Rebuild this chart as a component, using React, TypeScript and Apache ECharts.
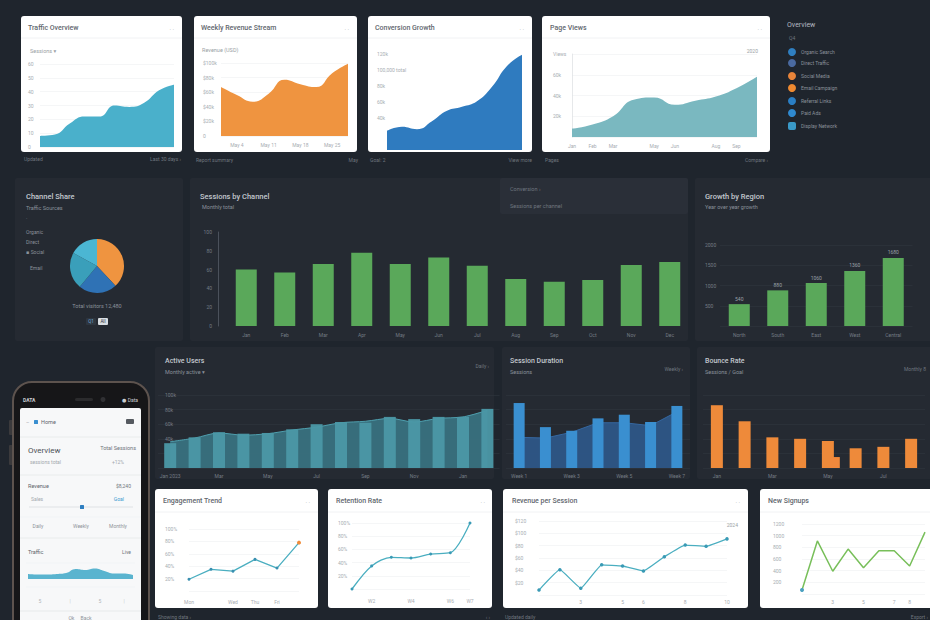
import React, { useEffect, useRef } from 'react';
import * as echarts from 'echarts';

const FONT = 'Roboto, "Noto Sans", "DejaVu Sans", sans-serif';

// ---------------- data ----------------
const trafficWeeks = ['W1', 'W2', 'W3', 'W4', 'W5', 'W6', 'W7', 'W8', 'W9', 'W10'];
const trafficSessions = [8, 9, 17, 22, 22, 30, 29, 32, 41, 45];

const revenueDays = ['May 1', 'May 4', 'May 8', 'May 11', 'May 15', 'May 18', 'May 22', 'May 25', 'May 29'];
const revenueValues = [67, 56, 47, 58, 77, 71, 67, 86, 99];

const growthMonths = ['Jan', 'Feb', 'Mar', 'Apr', 'May', 'Jun', 'Jul', 'Aug', 'Sep', 'Oct'];
const growthValues = [24, 29, 26, 36, 49, 54, 61, 79, 105, 119];

const pageMonths = ['Jan', 'Feb', 'Mar', 'Apr', 'May', 'Jun', 'Jul', 'Aug', 'Sep', 'Oct'];
const pageViews = [8, 12, 20, 36, 38, 31, 35, 39, 47, 58];

const legendNames = ['Organic Search', 'Direct Traffic', 'Social Media', 'Email Campaign', 'Referral Links', 'Paid Ads', 'Display Network'];
const legendColors = ['#2f7fc1', '#4a6aa0', '#e8843a', '#ef8a30', '#2a7fc5', '#2f8ad0', '#3a9ac8'];

const shareNames = ['Organic', 'Direct', 'Social', 'Email'];
const shareValues = [38, 23, 22, 17];
const shareColors = ['#ef9440', '#2f72b5', '#3a9fba', '#4bb6d3'];

const channelMonths = ['Jan', 'Feb', 'Mar', 'Apr', 'May', 'Jun', 'Jul', 'Aug', 'Sep', 'Oct', 'Nov', 'Dec'];
const channelSessions = [60, 57, 66, 78, 66, 73, 64, 50, 47, 49, 65, 68];

const regionNames = ['North', 'South', 'East', 'West', 'Central'];
const regionGrowth = [27, 44, 53, 68, 84];

const activeMonths = ['Jan 2023', 'Feb', 'Mar', 'Apr', 'May', 'Jun', 'Jul', 'Aug', 'Sep', 'Oct', 'Nov', 'Dec', 'Jan', 'Feb'];
const activeUsers = [34, 42, 49, 47, 48, 53, 60, 63, 62, 70, 67, 70, 70, 81];
const activeTrend = [36, 41, 48, 45, 47, 52, 56, 62, 64, 68, 63, 68, 70, 79];

const durationWeeks = ['Week 1', 'W2', 'Week 3', 'W4', 'Week 5', 'W6', 'Week 7'];
const durationBars = [89, 56, 51, 68, 73, 63, 85];
const durationTrend = [42, 41, 49, 62, 62, 58, 77];

const bounceMonths = ['Jan', 'Feb', 'Mar', 'Apr', 'May', 'Jun', 'Jul', 'Aug'];
const bounceRates = [86, 64, 42, 40, 37, 27, 29, 40];
const bounceGoal = [null, null, null, null, null, null, null, null, null, 15, null, null, null, null, null, null];

const engagementDays = ['Mon', 'Tue', 'Wed', 'Thu', 'Fri', 'Sat'];
const engagementRate = [19, 35, 32, 51, 37, 78];

const retentionWeeks = ['W1', 'W2', 'W3', 'W4', 'W5', 'W6', 'W7'];
const retentionRate = [0, 35, 48, 47, 53, 55, 100];

const sessionDays = ['1', '2', '3', '4', '5', '6', '7', '8', '9', '10'];
const revenuePerSession = [8, 41, 11, 49, 47, 39, 62, 81, 79, 91];

const signupDays = ['1', '2', '3', '4', '5', '6', '7', '8', '9'];
const signups = [7, 91, 39, 77, 45, 74, 74, 48, 106];

const phoneHours = ['0', '2', '4', '6', '8', '10', '12', '14', '16', '18', '20', '22'];
const phoneTraffic = [5, 4.5, 4.5, 5, 6, 10, 9, 10.5, 8, 5.5, 5.5, 4];

// ---------------- styling helpers ----------------
const L_LIGHT = '#a8adb3';
const L_DARK = '#747b84';
const SPLIT_LIGHT = '#eef0f2';
const SPLIT_DARK = '#2f353e';

function xCat(gridIndex: number, data: string[], o: any = {}) {
  return {
    type: 'category',
    gridIndex,
    data,
    show: o.show !== false,
    boundaryGap: o.boundaryGap ?? false,
    axisLine: { show: !!o.line, lineStyle: { color: o.lineColor || '#dde0e3', width: 0.8 } },
    axisTick: { show: false },
    axisLabel: o.labels
      ? { show: true, color: o.labelColor || L_LIGHT, fontSize: 5, fontFamily: FONT, margin: o.margin ?? 5, interval: o.interval ?? 0 }
      : { show: false },
    splitLine: { show: false },
  };
}

function yVal(gridIndex: number, max: number, interval: number, o: any = {}) {
  return {
    type: 'value',
    gridIndex,
    min: 0,
    max,
    interval,
    offset: o.offset ?? 0,
    axisLine: { show: !!o.line, lineStyle: { color: o.lineColor || '#555c66', width: 0.8 } },
    axisTick: { show: false },
    axisLabel:
      o.labels === false
        ? { show: false }
        : {
            show: true,
            color: o.labelColor || L_LIGHT,
            fontSize: 5,
            fontFamily: FONT,
            margin: o.margin ?? 6,
            align: o.align,
            inside: o.inside ?? false,
            formatter: o.formatter,
          },
    splitLine: { show: o.split !== false, lineStyle: { color: o.splitColor || SPLIT_LIGHT, width: 0.6 } },
  };
}

const pick = (list: number[]) => (i: number) => list.indexOf(i) >= 0;

function buildGraphics() {
  const g: any[] = [];
  const rect = (x: number, y: number, w: number, h: number, fill: string, r: any = 3, z = -10, extra: any = {}) =>
    g.push({ type: 'rect', z, silent: true, shape: { x, y, width: w, height: h, r }, style: { fill, ...extra } });
  const line = (x1: number, y1: number, x2: number, y2: number, stroke: string, w = 0.8, z = -9) =>
    g.push({ type: 'line', z, silent: true, shape: { x1, y1, x2, y2 }, style: { stroke, lineWidth: w } });
  const text = (x: number, y: number, t: string, size: number, fill: string, o: any = {}) =>
    g.push({
      type: 'text',
      z: 60,
      silent: true,
      x,
      y,
      style: {
        text: t,
        fontSize: size,
        fill,
        fontFamily: FONT,
        fontWeight: o.weight || 'normal',
        textAlign: o.align || 'left',
        textVerticalAlign: 'middle',
        align: o.align || 'left',
        verticalAlign: 'middle',
      },
    });
  const circle = (cx: number, cy: number, r: number, fill: string, z = 60) =>
    g.push({ type: 'circle', z, silent: true, shape: { cx, cy, r }, style: { fill } });

  const TITLE_W = '#62676e';
  const SUB_W = '#9a9fa5';
  const TITLE_D = '#c3c8ce';
  const SUB_D = '#8a919a';
  const FOOT = '#6f767f';
  const TW = '500';

  // ---------- row 1 white cards ----------
  const cards = [
    [21, 16, 161, 136],
    [194, 16, 163, 136],
    [368, 16, 164, 136],
    [542, 16, 228, 136],
  ];
  cards.forEach(([x, y, w, h]) => {
    rect(x, y, w, h, '#ffffff', 3);
    line(x, 38, x + w, 38, '#edeff1', 0.8);
  });
  text(28, 28, 'Traffic Overview', 7, TITLE_W, { weight: TW });
  text(174, 28, '· ·', 6, '#9aa0a6', { align: 'right' });
  text(30, 51, 'Sessions ▾', 5.5, SUB_W);
  text(24, 159, 'Updated', 5, FOOT);
  text(181, 159, 'Last 30 days ›', 5, FOOT, { align: 'right' });

  text(201, 28, 'Weekly Revenue Stream', 7, TITLE_W, { weight: TW });
  text(349, 28, '· ·', 6, '#9aa0a6', { align: 'right' });
  text(202, 50, 'Revenue (USD)', 5.5, SUB_W);
  text(196, 160, 'Report summary', 5, FOOT);
  text(358, 160, 'May', 5, FOOT, { align: 'right' });

  text(375, 28, 'Conversion Growth', 7, TITLE_W, { weight: TW });
  text(524, 28, '· ·', 6, '#9aa0a6', { align: 'right' });
  text(370, 160, 'Goal: 2', 5, FOOT);
  text(532, 160, 'View more', 5, FOOT, { align: 'right' });

  text(550, 28, 'Page Views', 7, TITLE_W, { weight: TW });
  text(762, 28, '· ·', 6, '#9aa0a6', { align: 'right' });
  text(758, 51, '2020', 5, SUB_W, { align: 'right' });
  text(545, 160, 'Pages', 5, FOOT);
  text(768, 160, 'Compare ›', 5, FOOT, { align: 'right' });

  // ---------- legend ----------
  text(787, 25, 'Overview', 7, '#b4bac1');
  text(789, 38, 'Q4', 5, FOOT);
  const legendY = [52, 63, 76, 88, 101, 113, 126];
  legendNames.forEach((name, i) => {
    if (i === legendNames.length - 1) {
      g.push({
        type: 'rect',
        z: 60,
        silent: true,
        shape: { x: 788, y: legendY[i] - 4, width: 8, height: 8, r: 2 },
        style: { fill: legendColors[i] },
      });
    } else {
      circle(792, legendY[i], 4, legendColors[i]);
    }
    text(801, legendY[i], name, 5, '#8a919a');
  });

  // ---------- row 2 dark panels ----------
  const PANEL = '#252a32';
  rect(15, 178, 168, 163, PANEL, 2);
  rect(190, 178, 498, 163, PANEL, 2);
  rect(500, 178, 188, 36, '#2a2f38', 2, -9);
  rect(695, 178, 240, 163, PANEL, 2);

  text(26, 196, 'Channel Share', 7.5, TITLE_D, { weight: TW });
  text(26, 208, 'Traffic Sources', 5.5, SUB_D);
  text(26, 218, '·', 5, SUB_D);
  text(26, 232, 'Organic', 5, SUB_D);
  text(26, 242, 'Direct', 5, SUB_D);
  text(26, 252, '▪ Social', 5, SUB_D);
  text(30, 268, 'Email', 5, SUB_D);
  text(97, 306, 'Total visitors 12,480', 5.5, SUB_D, { align: 'center' });
  rect(86, 318, 10, 7, '#2e3640', 1, 55);
  text(91, 321.5, 'Q1', 4.5, '#6fa8d6', { align: 'center' });
  rect(98, 318, 10, 7, '#d8dde2', 1, 55);
  text(103, 321.5, 'All', 4.5, '#2a2f38', { align: 'center' });

  text(200, 196, 'Sessions by Channel', 7.5, TITLE_D, { weight: TW });
  text(202, 207, 'Monthly total', 5.5, SUB_D);
  text(510, 189, 'Conversion ›', 5.5, FOOT);
  text(510, 206, 'Sessions per channel', 5.5, FOOT);

  text(705, 196, 'Growth by Region', 7.5, TITLE_D, { weight: TW });
  text(705, 207, 'Year over year growth', 5.5, SUB_D);

  // ---------- row 3 dark panels ----------
  rect(155, 347, 339, 132, PANEL, 2);
  rect(502, 347, 188, 132, PANEL, 2);
  rect(697, 347, 240, 132, PANEL, 2);
  text(165, 361, 'Active Users', 7, TITLE_D, { weight: TW });
  text(165, 372, 'Monthly active ▾', 5.5, SUB_D);
  text(489, 366, 'Daily ›', 5, FOOT, { align: 'right' });
  text(510, 361, 'Session Duration', 7, TITLE_D, { weight: TW });
  text(510, 372, 'Sessions', 5.5, SUB_D);
  text(683, 369, 'Weekly ›', 5, FOOT, { align: 'right' });
  text(705, 361, 'Bounce Rate', 7, TITLE_D, { weight: TW });
  text(705, 372, 'Sessions / Goal', 5.5, SUB_D);
  text(926, 369, 'Monthly 8', 5, FOOT, { align: 'right' });

  // ---------- row 4 white cards ----------
  const cards4 = [
    [155, 489, 163, 119],
    [328, 489, 164, 119],
    [503, 489, 245, 119],
    [760, 489, 180, 119],
  ];
  cards4.forEach(([x, y, w, h]) => {
    rect(x, y, w, h, '#ffffff', 3);
    line(x, 512, x + w, 512, '#edeff1', 0.8);
  });
  text(163, 501, 'Engagement Trend', 7, TITLE_W, { weight: TW });
  text(310, 501, '· ·', 6, '#9aa0a6', { align: 'right' });
  text(336, 501, 'Retention Rate', 7, TITLE_W, { weight: TW });
  text(485, 501, '· ·', 6, '#9aa0a6', { align: 'right' });
  text(512, 501, 'Revenue per Session', 7, TITLE_W, { weight: TW });
  text(740, 501, '· ·', 6, '#9aa0a6', { align: 'right' });
  text(768, 501, 'New Signups', 7, TITLE_W, { weight: TW });
  text(738, 525, '2024', 5, SUB_W, { align: 'right' });

  text(158, 617, 'Showing data ›', 5, FOOT);
  text(490, 617, '‹ ›', 5, FOOT, { align: 'right' });
  text(505, 617, 'Updated daily', 5, FOOT);
  text(928, 617, 'Export ›', 5, FOOT, { align: 'right' });

  // ---------- phone ----------
  rect(9, 420, 4, 15, '#3b3a3c', 1, -13);
  rect(9, 445, 4, 20, '#3b3a3c', 1, -13);
  g.push({
    type: 'rect',
    z: -12,
    silent: true,
    shape: { x: 13, y: 382, width: 136, height: 270, r: 19 },
    style: { fill: '#161618', stroke: '#5d534e', lineWidth: 2 },
  });
  rect(20, 408, 121, 230, '#f7f8f9', [2, 2, 0, 0], -11);
  text(23, 400, 'DATA', 5, '#c9ccd0', { weight: 'bold' });
  rect(75, 398, 18, 3, '#2b2b2d', 1.5, -10);
  circle(103, 399.5, 2.5, '#303033', -10);
  text(138, 400, '● Data', 5, '#c9ccd0', { align: 'right' });

  text(26, 422, '–', 5, '#9aa0a6');
  rect(34, 420, 4, 4, '#3a8fd0', 0.5, 55);
  text(41, 422, 'Home', 5.5, '#5f646b');
  rect(126, 419, 8, 5, '#555a60', 1, 55);
  line(20, 437, 141, 437, '#e6e8ea', 0.8, -8);

  text(28, 450, 'Overview', 8, '#4c5157');
  text(136, 448, 'Total Sessions', 5.5, '#70757b', { align: 'right' });
  text(30, 462, 'sessions total', 5, '#a3a8ae');
  text(124, 462, '+12%', 5, '#a3a8ae', { align: 'right' });
  line(20, 475, 141, 475, '#e6e8ea', 0.8, -8);

  text(28, 486, 'Revenue', 5.5, '#5f646b');
  text(131, 486, '$8,240', 5, '#70757b', { align: 'right' });
  text(31, 499, 'Sales', 5, '#a3a8ae');
  text(124, 499, 'Goal', 5, '#3a9ad0', { align: 'right' });
  line(29, 507, 133, 507, '#dfe2e5', 1, -8);
  rect(80, 505, 4, 4, '#2f7fc1', 0.5, 55);
  line(20, 517, 141, 517, '#eff1f3', 0.6, -8);
  text(38, 526, 'Daily', 5, '#8e949a', { align: 'center' });
  text(81, 526, 'Weekly', 5, '#8e949a', { align: 'center' });
  text(118, 526, 'Monthly', 5, '#8e949a', { align: 'center' });
  line(20, 538, 141, 538, '#e6e8ea', 0.8, -8);

  text(28, 552, 'Traffic', 5.5, '#5f646b');
  text(131, 552, 'Live', 5, '#70757b', { align: 'right' });
  line(26, 563, 135, 563, '#eff1f3', 0.6, -8);
  line(26, 587, 135, 587, '#eff1f3', 0.6, -8);
  text(40, 601, '5', 5, '#b0b5ba', { align: 'center' });
  text(70, 601, '|', 5, '#c5c9cd', { align: 'center' });
  text(100, 601, '5', 5, '#b0b5ba', { align: 'center' });
  text(124, 601, '|', 5, '#c5c9cd', { align: 'center' });
  line(20, 611, 141, 611, '#e3e6e9', 0.8, -8);
  text(80, 618, 'Ok     Back', 5, '#8e949a', { align: 'center' });

  return g;
}

function buildOption() {
  const grids = [
    { left: 40, top: 64, width: 134, height: 83 }, // 0 A
    { left: 221, top: 63, width: 127, height: 73 }, // 1 B
    { left: 387, top: 54, width: 135, height: 96 }, // 2 C
    { left: 572, top: 54, width: 185, height: 83 }, // 3 D
    { left: 227, top: 232, width: 462, height: 94 }, // 4 channel bars
    { left: 720, top: 245, width: 192.5, height: 81 }, // 5 region bars
    { left: 158, top: 395, width: 341.6, height: 73 }, // 6 active
    { left: 506, top: 395, width: 184, height: 73 }, // 7 duration
    { left: 703, top: 395, width: 222, height: 73 }, // 8 bounce
    { left: 189, top: 529, width: 110, height: 62 }, // 9 E
    { left: 352, top: 523, width: 118, height: 66 }, // 10 F
    { left: 539, top: 521, width: 188, height: 74 }, // 11 G
    { left: 802, top: 524, width: 123, height: 70 }, // 12 H
    { left: 28, top: 565, width: 105, height: 14 }, // 13 phone
  ];

  const xAxis = [
    xCat(0, trafficWeeks),
    xCat(1, revenueDays, { labels: true, margin: 6, interval: pick([1, 3, 5, 7]) }),
    xCat(2, growthMonths),
    xCat(3, pageMonths, { labels: true, margin: 6, interval: pick([0, 1, 2, 4, 5, 7, 8]) }),
    xCat(4, channelMonths, { boundaryGap: true, labels: true, labelColor: L_DARK, margin: 6 }),
    xCat(5, regionNames, { boundaryGap: true, labels: true, labelColor: L_DARK, margin: 6 }),
    xCat(6, activeMonths, { boundaryGap: true, labels: true, labelColor: L_DARK, margin: 5, interval: 1 }),
    xCat(7, durationWeeks, { boundaryGap: true, labels: true, labelColor: L_DARK, margin: 5, interval: pick([0, 2, 4, 6]) }),
    xCat(8, bounceMonths, { boundaryGap: true, labels: true, labelColor: L_DARK, margin: 5, interval: 1 }),
    xCat(9, engagementDays, { labels: true, margin: 8, interval: pick([0, 2, 3, 4]) }),
    xCat(10, retentionWeeks, { labels: true, margin: 9, interval: pick([1, 3, 5, 6]) }),
    xCat(11, sessionDays, { labels: true, margin: 4, interval: pick([2, 4, 5, 7, 9]) }),
    xCat(12, signupDays, { labels: true, margin: 5, interval: pick([2, 4, 6, 7]) }),
    xCat(13, phoneHours),
    {
      ...xCat(8, bounceMonths.flatMap((m) => [m + ' a', m + ' b']), { boundaryGap: true }),
      show: false,
    },
  ];

  const yAxis = [
    yVal(0, 60, 10, { margin: 12, align: 'left' }),
    yVal(1, 100, 20, { margin: 18, align: 'left', formatter: (v: number) => (v === 0 ? '0' : '$' + v + 'k') }),
    yVal(2, 120, 20, {
      margin: 10,
      align: 'left',
      split: false,
      formatter: (v: number) => (v < 40 ? '' : v === 100 ? '100,000 total' : v + 'k'),
    }),
    yVal(3, 80, 20, {
      margin: 19,
      align: 'left',
      line: true,
      lineColor: '#dfe2e5',
      formatter: (v: number) => (v === 0 ? '' : v === 80 ? 'Views' : v + 'k'),
    }),
    yVal(4, 100, 20, { offset: 9, line: true, labelColor: L_DARK, split: false, margin: 6 }),
    yVal(5, 100, 25, {
      margin: 15,
      align: 'left',
      labelColor: L_DARK,
      splitColor: SPLIT_DARK,
      formatter: (v: number) => (v === 0 ? '' : v * 20 + ''),
    }),
    yVal(6, 100, 20, {
      inside: true,
      margin: 7,
      labelColor: L_DARK,
      splitColor: SPLIT_DARK,
      formatter: (v: number) => (v < 40 ? '' : v + 'k'),
    }),
    yVal(7, 100, 20, { labels: false, splitColor: SPLIT_DARK }),
    yVal(8, 100, 20, { labels: false, splitColor: SPLIT_DARK }),
    yVal(9, 100, 20, { margin: 24, align: 'left', formatter: (v: number) => (v === 0 ? '' : v + '%') }),
    yVal(10, 100, 20, { margin: 14, align: 'left', formatter: (v: number) => (v === 0 ? '' : v + '%') }),
    yVal(11, 120, 20, { margin: 24, align: 'left', formatter: (v: number) => (v === 0 ? '' : '$' + v) }),
    yVal(12, 120, 20, { margin: 29, align: 'left', formatter: (v: number) => (v === 0 ? '' : v * 10 + '') }),
    yVal(13, 14, 7, { labels: false, split: false }),
  ];

  const area = (idx: number, data: number[], color: string, smooth: any = true) => ({
    type: 'line',
    xAxisIndex: idx,
    yAxisIndex: idx,
    data,
    smooth,
    symbol: 'none',
    lineStyle: { width: 0 },
    areaStyle: { color, opacity: 1 },
    z: 2,
  });

  const trendLine = (idx: number, data: any[], color: string, smooth: any, symbolColor: string, size = 3) => ({
    type: 'line',
    xAxisIndex: idx,
    yAxisIndex: idx,
    data,
    smooth,
    symbol: 'circle',
    symbolSize: size,
    showSymbol: true,
    itemStyle: { color: symbolColor },
    lineStyle: { color, width: 1.3 },
    z: 3,
  });

  const series: any[] = [
    area(0, trafficSessions, '#4ab0cb'),
    area(1, revenueValues, '#ef9440'),
    area(2, growthValues, '#2f7bbf'),
    area(3, pageViews, '#7ab8c0'),
    {
      type: 'bar',
      xAxisIndex: 4,
      yAxisIndex: 4,
      data: channelSessions,
      barWidth: 21,
      itemStyle: { color: '#5aa85a' },
    },
    {
      type: 'bar',
      xAxisIndex: 5,
      yAxisIndex: 5,
      data: regionGrowth,
      barWidth: 21,
      itemStyle: { color: '#5aa85a' },
      label: {
        show: true,
        position: 'top',
        distance: 3,
        fontSize: 5,
        fontFamily: FONT,
        color: '#9aa0a8',
        formatter: (p: any) => p.value * 20 + '',
      },
    },
    {
      type: 'line',
      xAxisIndex: 6,
      yAxisIndex: 6,
      data: activeTrend,
      smooth: 0.3,
      symbol: 'none',
      lineStyle: { color: '#4f9fae', width: 1 },
      areaStyle: { color: '#3a7483', opacity: 0.9 },
      z: 1,
    },
    {
      type: 'bar',
      xAxisIndex: 6,
      yAxisIndex: 6,
      data: activeUsers,
      barWidth: 12,
      itemStyle: { color: '#4b98a6', opacity: 0.95 },
      z: 2,
    },
    {
      type: 'line',
      xAxisIndex: 7,
      yAxisIndex: 7,
      data: durationTrend,
      symbol: 'none',
      lineStyle: { color: '#3567a0', width: 1 },
      areaStyle: { color: '#2d5687', opacity: 0.95 },
      z: 1,
    },
    {
      type: 'bar',
      xAxisIndex: 7,
      yAxisIndex: 7,
      data: durationBars,
      barWidth: 11,
      itemStyle: { color: '#3a8fd0' },
      z: 2,
    },
    {
      type: 'bar',
      xAxisIndex: 8,
      yAxisIndex: 8,
      data: bounceRates,
      barWidth: 12,
      itemStyle: { color: '#ee8a3a' },
    },
    {
      type: 'bar',
      xAxisIndex: 14,
      yAxisIndex: 8,
      data: bounceGoal,
      barWidth: 10,
      itemStyle: { color: '#f0883c' },
    },
    trendLine(
      9,
      engagementRate.map((v, i) =>
        i === engagementRate.length - 1 ? { value: v, itemStyle: { color: '#f08c3a' }, symbolSize: 4 } : v,
      ),
      '#4aaec0',
      false,
      '#3a8fb0',
    ),
    trendLine(10, retentionRate, '#4aaec0', 0.3, '#3a9ab5'),
    trendLine(11, revenuePerSession, '#4aaec0', 0.1, '#3a9ab5', 3.5),
    {
      type: 'line',
      xAxisIndex: 12,
      yAxisIndex: 12,
      data: signups.map((v, i) => (i === 0 ? { value: v, symbol: 'circle', symbolSize: 4, itemStyle: { color: '#4aa0c0' } } : v)),
      symbol: 'none',
      lineStyle: { color: '#78bf5a', width: 1.5 },
      z: 3,
    },
    area(13, phoneTraffic, '#5ab4cf'),
    {
      type: 'pie',
      center: [97, 266],
      radius: 27,
      startAngle: 90,
      clockwise: true,
      silent: true,
      label: { show: false },
      labelLine: { show: false },
      itemStyle: { borderWidth: 0 },
      data: shareNames.map((name, i) => ({ name, value: shareValues[i], itemStyle: { color: shareColors[i] } })),
    },
  ];

  return {
    animation: false,
    backgroundColor: '#1f252d',
    textStyle: { fontFamily: FONT },
    grid: grids.map((gr) => ({ ...gr, containLabel: false })),
    xAxis,
    yAxis,
    series,
    graphic: { elements: buildGraphics() },
  };
}

export default function App() {
  const ref = useRef<HTMLDivElement>(null);
  useEffect(() => {
    document.body.style.margin = '0';
    const chart = echarts.init(ref.current as HTMLDivElement, undefined, { renderer: 'svg' });
    chart.setOption(buildOption() as any);
    return () => chart.dispose();
  }, []);
  return <div ref={ref} style={{ position: 'fixed', left: 0, top: 0, width: 930, height: 620 }} />;
}
